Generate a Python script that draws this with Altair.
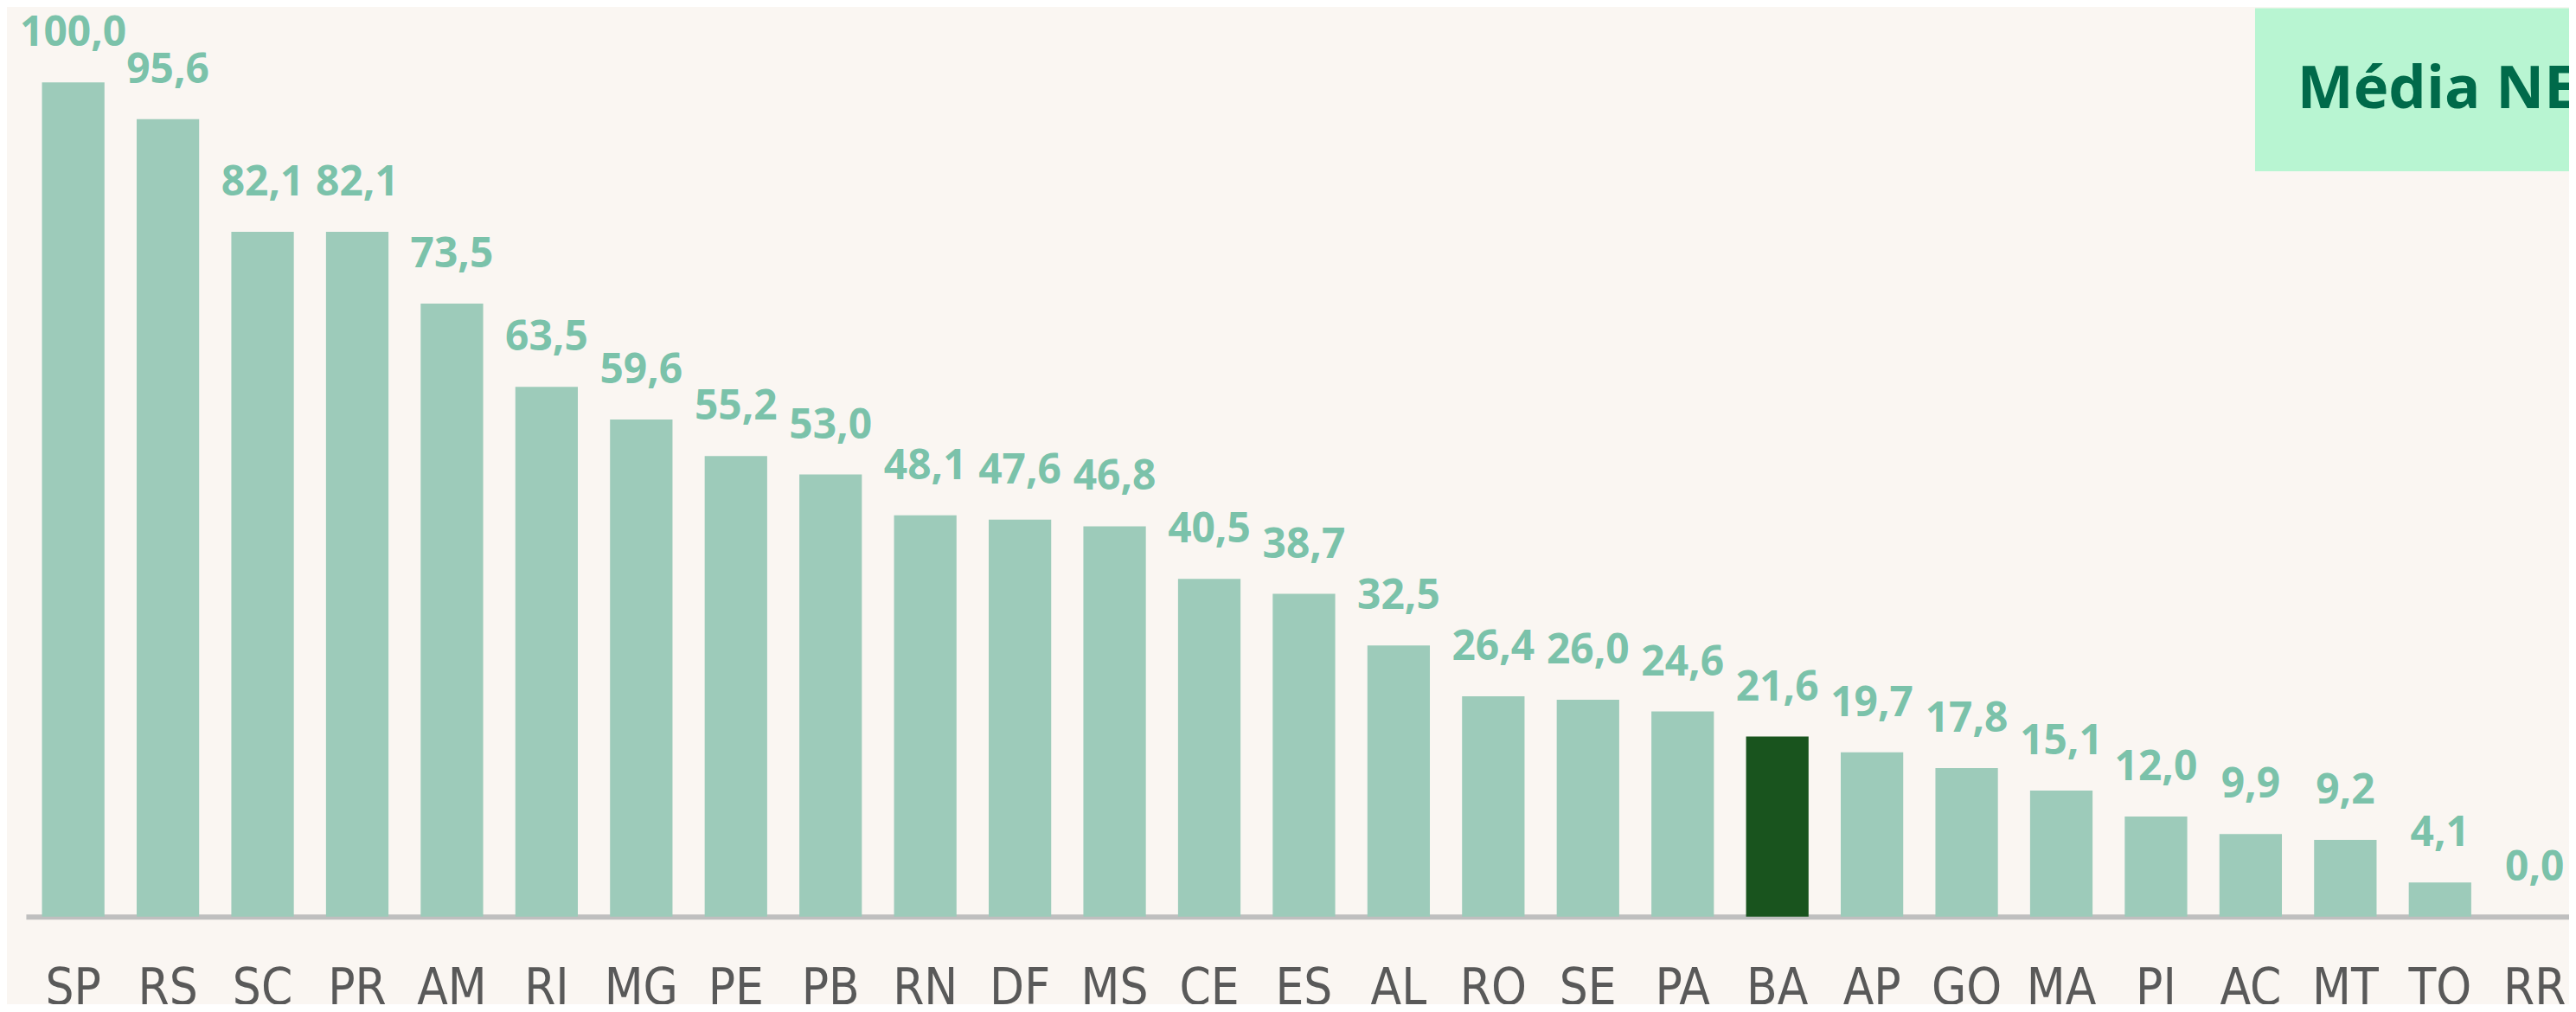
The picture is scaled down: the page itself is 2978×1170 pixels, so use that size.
import altair as alt
import pandas as pd

# ---- data ----
states = ["SP", "RS", "SC", "PR", "AM", "RJ", "MG", "PE", "PB", "RN", "DF", "MS", "CE", "ES",
          "AL", "RO", "SE", "PA", "BA", "AP", "GO", "MA", "PI", "AC", "MT", "TO", "RR"]
values = [100.0, 95.6, 82.1, 82.1, 73.5, 63.5, 59.6, 55.2, 53.0, 48.1, 47.6, 46.8, 40.5, 38.7,
          32.5, 26.4, 26.0, 24.6, 21.6, 19.7, 17.8, 15.1, 12.0, 9.9, 9.2, 4.1, 0.0]
highlight = "BA"
box_text = ["Média NE:"]

df = pd.DataFrame({"uf": states, "valor": values})
df["rotulo"] = [f"{v:.1f}".replace(".", ",") for v in values]
df["destaque"] = ["sim" if s == highlight else "nao" for s in states]

BG = "#faf6f2"
BAR = "#9dcbba"
BAR_HI = "#19541e"
LABEL = "#7bc2aa"

W, H = 2948, 967

x_enc = alt.X(
    "uf:N", sort=states, title=None,
    scale=alt.Scale(range=[0, 2963], paddingInner=0.34, paddingOuter=0.17),
    axis=alt.Axis(
        labelAngle=0, ticks=False, tickSize=0,
        domainColor="#bfbfbf", domainWidth=6,
        labelFont="Liberation Sans Narrow, DejaVu Sans Condensed, Roboto",
        labelFontSize=58, labelColor="#595959", labelPadding=55,
    ),
)
y_enc = alt.Y("valor:Q", scale=alt.Scale(domain=[0, 100], nice=False), axis=None)

base = alt.Chart(df)
bars = base.mark_bar().encode(
    x=x_enc, y=y_enc,
    color=alt.Color("destaque:N",
                    scale=alt.Scale(domain=["nao", "sim"], range=[BAR, BAR_HI]),
                    legend=None),
)
labels = base.mark_text(
    baseline="alphabetic", dy=-42, font="Open Sans", fontWeight="bold",
    fontSize=48, color=LABEL,
).encode(x=x_enc, y=y_enc, text="rotulo:N")

box_df = pd.DataFrame({"t": box_text})
box = alt.Chart(box_df).mark_rect(color="#b8f5d2").encode(
    x=alt.value(2584), x2=alt.value(3200), y=alt.value(-86), y2=alt.value(103)
)
box_label = alt.Chart(box_df).mark_text(
    align="left", baseline="alphabetic", font="Open Sans", fontWeight="bold",
    fontSize=69, color="#006a4a",
).encode(x=alt.value(2633), y=alt.value(30), text="t:N")

chart = alt.layer(bars, labels, box, box_label).properties(
    width=W, height=H,
    autosize=alt.AutoSizeParams(type="none"),
    padding={"left": 22, "top": 86, "right": 0, "bottom": 100},
    background=BG,
).configure_view(stroke=None)

chart.save("out.html", embed_options={"renderer": "svg", "actions": False})
